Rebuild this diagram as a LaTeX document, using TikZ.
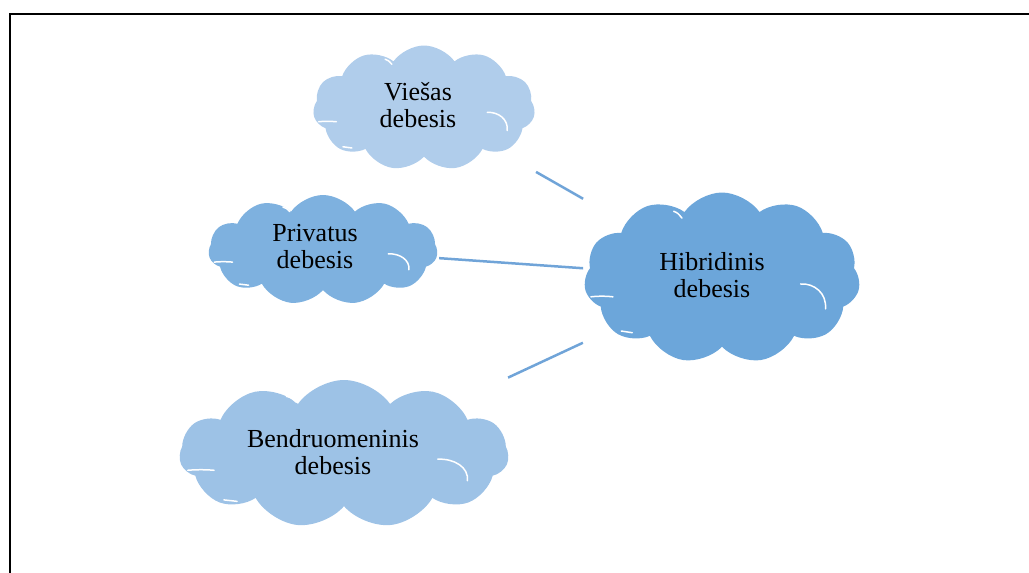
\documentclass[tikz,border=0pt]{standalone}
\usepackage{fontspec}
\setmainfont{Liberation Serif}
\usetikzlibrary{shapes.symbols, calc}
\definecolor{viesc}{RGB}{176,205,235}
\definecolor{privc}{RGB}{126,177,223}
\definecolor{hibc}{RGB}{108,166,218}
\definecolor{bendc}{RGB}{157,194,230}
\definecolor{linkc}{RGB}{112,164,216}

\begin{document}
\begin{tikzpicture}[x=1pt, y=-1pt,
        cl/.style={cloud, cloud puffs=11, cloud puff arc=110, cloud ignores aspect,
          inner sep=0pt},
        lbl/.style={align=center, text=black, font=\fontsize{26}{27}\selectfont},
        link/.style={draw=linkc, line width=2.5pt},
        marks/.pic={
          \draw[white, line width=1.5pt, line cap=round]
            (0.57,0.07) .. controls (0.67,0.06) and (0.76,0.18) .. (0.75,0.36)
            (-0.95,0.22) .. controls (-0.9,0.21) and (-0.84,0.21) .. (-0.79,0.22)
            (-0.35,-0.78) .. controls (-0.32,-0.76) .. (-0.29,-0.70)
            (-0.73,0.62) .. controls (-0.69,0.64) .. (-0.65,0.64);
        }]
      \useasboundingbox (0,0) rectangle (1029,573);
      \draw [line width=2pt] (10,580) |- (1040,14);
      % clouds
      \node[cl, fill=viesc, minimum width=222, minimum height=125,
        label={[lbl, xshift=-6, yshift=3]center:Viešas\\debesis}] (v) at (424,108) {};
      \node[cl, fill=privc, minimum width=229, minimum height=110,
        label={[lbl, xshift=-8, yshift=3]center:Privatus\\debesis}] (p) at (323,250) {};
      \node[cl, fill=hibc, minimum width=276, minimum height=171,
        label={[lbl, xshift=-10, yshift=3]center:Hibridinis\\debesis}] (h) at (722,278) {};
      \node[cl, fill=bendc, minimum width=329, minimum height=148,
        label={[lbl, xshift=-11, yshift=2]center:Bendruomeninis\\debesis}] (b) at (344,454) {};
      \path (v) pic[xscale=111, yscale=62.5] {marks};
      \path (p) pic[xscale=114.5, yscale=55] {marks};
      \path (h) pic[xscale=138, yscale=85.5] {marks};
      \path (b) pic[xscale=164.5, yscale=74] {marks};
      % links
      \draw [link] ($(v)!0.376!(h)$) -- ($(v)!0.534!(h)$);
      \draw [link] ($(p)!0.291!(h)$) -- ($(p)!0.652!(h)$);
      \draw [link] ($(b)!0.434!(h)$) -- ($(b)!0.632!(h)$);
    \end{tikzpicture}
\end{document}
